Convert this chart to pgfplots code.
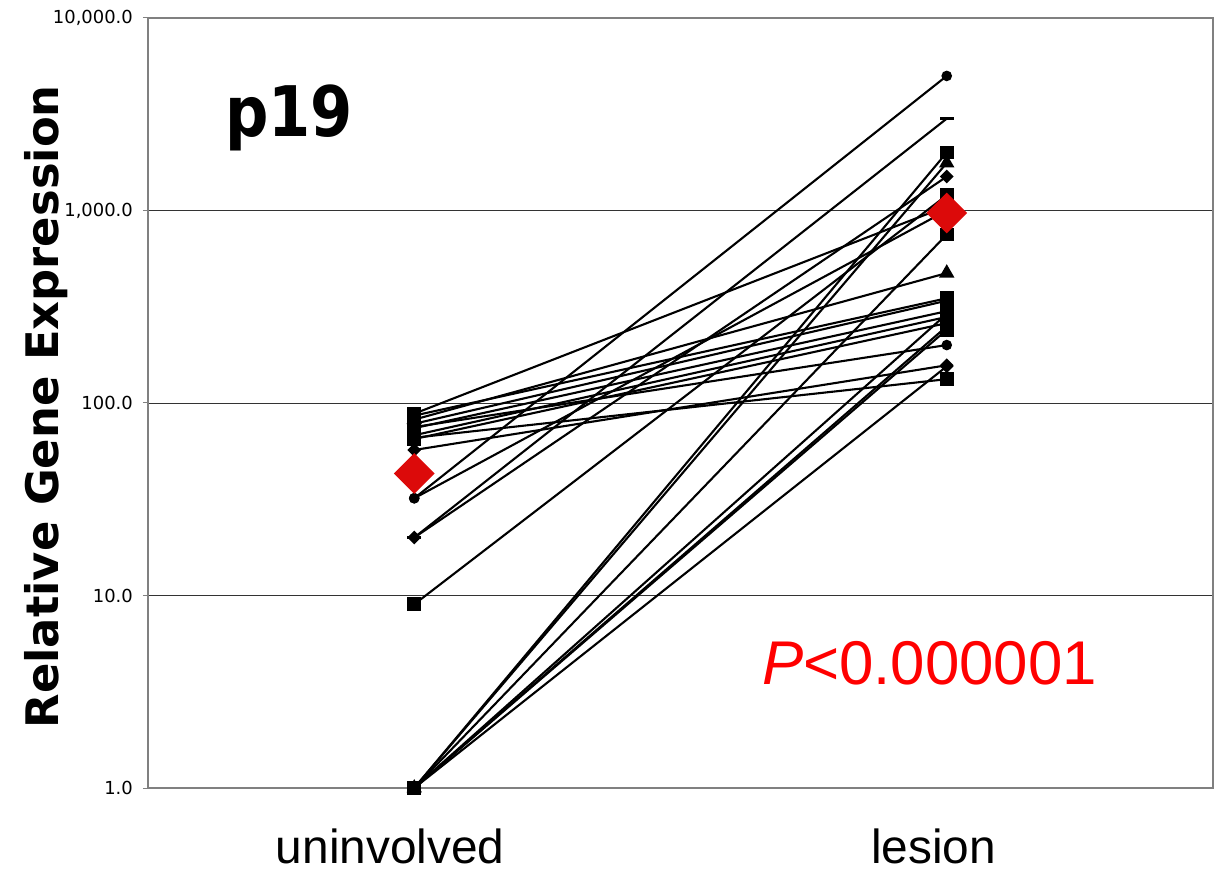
\documentclass[border=0pt]{standalone}
\usepackage{graphicx}
\usepackage{pgfplots}
\pgfplotsset{compat=1.18}
\usepackage{fontspec}
\setmainfont{DejaVu Sans}
\newfontfamily\arialfont{Liberation Sans}
\definecolor{meanred}{RGB}{220,10,10}
\definecolor{pred}{RGB}{255,0,0}
\begin{document}
\begin{tikzpicture}
\path[use as bounding box] (-148bp,-88bp) rectangle (1072bp,788bp);
\begin{axis}[
  at={(0,0)}, anchor=south west,
  scale only axis, width=1065bp, height=770bp,
  ymode=log, ymin=1, ymax=10000, xmin=0, xmax=2,
  clip=false,
  xtick={0.5,1.5}, xticklabels={\hspace*{-48bp}uninvolved,\hspace*{-26bp}lesion},
  xtick style={draw=none},
  xticklabel style={font=\arialfont\fontsize{48}{56}\selectfont, anchor=north, inner sep=0pt, yshift=-36bp},
  ytick={1,10,100,1000,10000},
  yticklabels={1.0,10.0,100.0,{1,000.0},{10,000.0}},
  yminorticks=false,
  ytick pos=left, tick align=outside,
  major tick length=5bp,
  ytick style={black!50, line width=1bp},
  yticklabel style={font=\fontsize{18}{21}\selectfont, inner sep=0pt, xshift=-10bp},
  ymajorgrids, major grid style={black!80, line width=0.9bp},
  axis line style={black!50, line width=1.4bp},
  every axis plot/.append style={black, line width=2.1bp, mark options={solid, fill=black}},
]
% circle 32 -> 5000
\addplot[mark=*, mark size=4.2bp] coordinates {(0.5,32) (1.5,5000)};
% dash 20 -> 3000
\addplot[mark=-, mark size=7bp, mark options={line width=3bp}] coordinates {(0.5,20) (1.5,3000)};
\addplot[mark=square*, mark size=5.8bp] coordinates {(0.5,1) (1.5,2000)};
\addplot[mark=triangle*, mark size=6.8bp] coordinates {(0.5,1) (1.5,1765)};
\addplot[mark=square*, mark size=3.8bp, mark options={rotate=45}] coordinates {(0.5,20) (1.5,1500)};
\addplot[mark=square*, mark size=5.8bp] coordinates {(0.5,9) (1.5,1200)};
\addplot[mark=*, mark size=4.2bp] coordinates {(0.5,32) (1.5,1000)};
\addplot[mark=square*, mark size=5.8bp] coordinates {(0.5,88) (1.5,1050)};
\addplot[mark=square*, mark size=5.8bp] coordinates {(0.5,1) (1.5,750)};
\addplot[mark=triangle*, mark size=6.8bp] coordinates {(0.5,82) (1.5,473)};
\addplot[mark=square*, mark size=5.8bp] coordinates {(0.5,86) (1.5,350)};
\addplot[mark=square*, mark size=5.8bp] coordinates {(0.5,78) (1.5,340)};
\addplot[mark=square*, mark size=5.8bp] coordinates {(0.5,74) (1.5,300)};
\addplot[mark=square*, mark size=5.8bp] coordinates {(0.5,68) (1.5,280)};
\addplot[mark=square*, mark size=5.8bp] coordinates {(0.5,65) (1.5,260)};
\addplot[mark=square*, mark size=5.8bp] coordinates {(0.5,1) (1.5,290)};
\addplot[mark=square*, mark size=5.8bp] coordinates {(0.5,1) (1.5,240)};
\addplot[mark=*, mark size=4.2bp] coordinates {(0.5,75) (1.5,200)};
\addplot[mark=square*, mark size=3.8bp, mark options={rotate=45}] coordinates {(0.5,57) (1.5,157)};
\addplot[mark=square*, mark size=3.8bp, mark options={rotate=45}] coordinates {(0.5,1) (1.5,155)};
\addplot[mark=square*, mark size=5.8bp] coordinates {(0.5,66) (1.5,133)};
\addplot[mark=square*, mark size=5.8bp] coordinates {(0.5,1) (1.5,250)};
% mean values
\addplot[only marks, mark=square*, mark size=13.4bp, mark options={rotate=45, fill=meanred, draw=meanred}] coordinates {(0.5,43) (1.5,970)};
\node[rotate=90, inner sep=0pt, font=\bfseries\fontsize{45}{54}\selectfont] at (rel axis cs:-0.0958,0.495) {Relative Gene Expression};
\node[anchor=base west, inner sep=0pt, font=\bfseries\fontsize{70}{80}\selectfont] at (rel axis cs:0.0723,0.8455) {\scalebox{0.87}[1]{p19}};
\node[anchor=base west, inner sep=0pt, text=pred, font=\arialfont\fontsize{62}{70}\selectfont] at (rel axis cs:0.5765,0.1338) {\textit{P}<0.000001};
\end{axis}
\end{tikzpicture}
\end{document}
